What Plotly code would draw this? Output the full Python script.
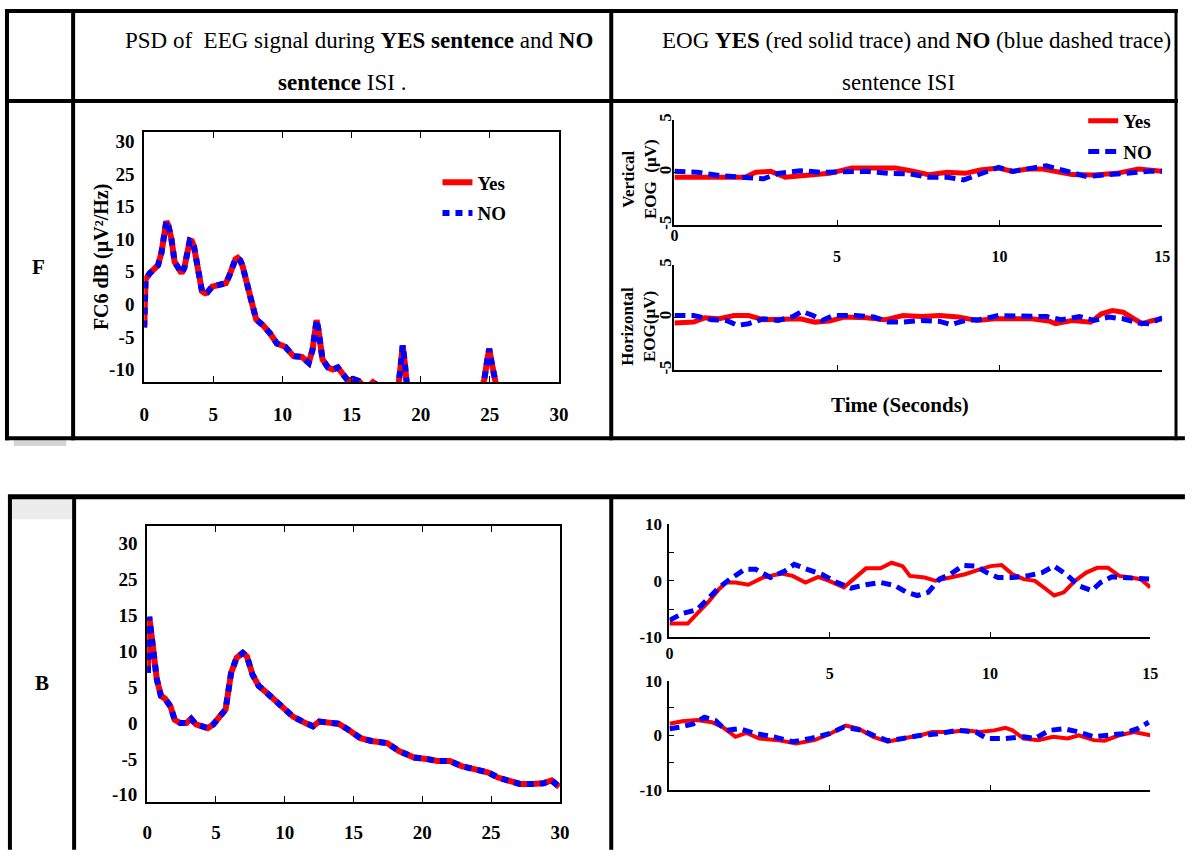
import plotly.graph_objects as go

# page geometry: the browser keeps its default 8px body margin, so the figure is
# sized to fill the 1203x868 window exactly inside that margin
PAGE_W, PAGE_H = 1203, 868
OX, OY = 8, 8
W, H = PAGE_W - 2 * OX, PAGE_H - 2 * OY
FONT = "Liberation Serif, Times New Roman, serif"
RED = "#ff0000"
BLUE = "#0000ff"

# ---------------- data ----------------
# Panel F : PSD of EEG (FC6)
psd_f_freq = [0.0, 0.1, 0.4, 0.75, 1.0, 1.25, 1.45, 1.6, 1.75, 1.97,
              2.2, 2.45, 2.7, 2.9, 3.07, 3.3, 3.45, 3.6, 3.93, 4.18,
              4.4, 4.55, 4.92, 5.4, 5.9, 6.15, 6.4, 6.6, 6.76, 6.95,
              7.1, 7.5, 7.87, 8.1, 8.6, 9.1, 9.6, 10.2, 10.8, 11.4,
              11.9, 12.17, 12.35, 12.47, 12.6, 12.75, 12.9, 13.3, 13.65, 14.0,
              14.4, 14.75, 15.1, 15.5, 15.85, 16.2, 16.55, 16.9, 17.5, 18.0,
              18.4, 18.55, 18.7, 18.85, 19.0, 19.5, 20.5, 21.5, 22.5, 23.5,
              24.3, 24.6, 24.8, 24.96, 25.12, 25.3, 25.6]
psd_f_yes = [-3.7, 3.5, 4.4, 5.1, 5.6, 7.5, 11.0, 12.2, 11.5, 9.5,
             6.1, 5.0, 4.4, 5.2, 6.6, 9.3, 9.2, 8.4, 4.6, 1.7,
             1.4, 1.5, 2.4, 2.7, 2.9, 4.0, 5.6, 6.5, 6.7, 6.3,
             5.6, 2.7, -0.7, -2.5, -3.4, -4.6, -6.1, -6.6, -8.0, -8.1,
             -9.0, -7.1, -4.5, -2.6, -4.0, -6.5, -8.5, -9.7, -10.0, -9.7,
             -10.7, -11.7, -11.4, -11.7, -12.4, -12.6, -11.9, -12.5, -13.3, -13.6,
             -12.2, -9.5, -6.4, -9.0, -12.3, -13.8, -14.2, -14.5, -14.6, -14.6,
             -13.5, -11.5, -8.8, -6.9, -8.8, -11.5, -13.8]
psd_f_no = [-3.7, 3.5, 4.4, 5.1, 5.6, 7.5, 11.0, 12.2, 11.5, 9.5,
            6.1, 5.0, 4.4, 5.2, 6.6, 9.3, 9.2, 8.4, 4.6, 1.7,
            1.4, 1.5, 2.4, 2.7, 2.9, 4.0, 5.6, 6.5, 6.7, 6.3,
            5.6, 2.7, -0.7, -2.5, -3.4, -4.6, -6.1, -6.6, -8.0, -8.1,
            -9.0, -7.1, -4.5, -2.6, -4.0, -6.5, -8.5, -9.7, -10.0, -9.7,
            -10.7, -11.7, -11.4, -11.7, -12.4, -12.6, -11.9, -12.5, -13.3, -13.6,
            -12.2, -9.5, -6.4, -9.0, -12.3, -13.8, -14.2, -14.5, -14.6, -14.6,
            -13.5, -11.5, -8.8, -6.9, -8.8, -11.5, -13.8]

# Panel B : PSD of EEG
psd_b_freq = [0.05, 0.15, 0.3, 0.45, 0.7, 1.0, 1.3, 1.7, 2.0, 2.4,
              2.85, 3.2, 3.55, 4.0, 4.4, 4.8, 5.25, 5.7, 6.1, 6.5,
              6.95, 7.25, 7.65, 8.1, 8.65, 9.2, 9.8, 10.6, 11.5, 12.05,
              12.5, 13.2, 13.9, 14.6, 15.5, 16.3, 17.45, 18.3, 19.4, 20.3,
              21.1, 22.0, 22.85, 23.7, 24.8, 25.5, 26.25, 27.1, 27.95, 28.8,
              29.4, 29.95]
psd_b_yes = [7.0, 14.8, 12.5, 9.8, 6.1, 3.8, 3.4, 2.3, 0.45, 0.0,
             0.0, 0.6, -0.2, -0.45, -0.7, -0.2, 0.7, 1.9, 7.0, 9.1,
             9.8, 9.3, 6.8, 5.2, 4.3, 3.4, 2.3, 0.9, 0.0, -0.45,
             0.2, 0.0, -0.1, -0.9, -2.1, -2.5, -2.8, -3.9, -4.8, -5.0,
             -5.3, -5.3, -6.0, -6.4, -6.9, -7.6, -8.0, -8.5, -8.5, -8.4,
             -8.0, -8.9]
psd_b_no = [7.0, 14.8, 12.5, 9.8, 6.1, 3.8, 3.4, 2.3, 0.45, 0.0,
            0.0, 0.6, -0.2, -0.45, -0.7, -0.2, 0.7, 1.9, 7.0, 9.1,
            9.8, 9.3, 6.8, 5.2, 4.3, 3.4, 2.3, 0.9, 0.0, -0.45,
            0.2, 0.0, -0.1, -0.9, -2.1, -2.5, -2.8, -3.9, -4.8, -5.0,
            -5.3, -5.3, -6.0, -6.4, -6.9, -7.6, -8.0, -8.5, -8.5, -8.4,
            -8.0, -8.9]

# Panel F : vertical EOG
veog_f_t_yes = [0, 1.04, 1.38, 2.17, 2.5, 2.96, 3.41, 4.1, 4.77, 5.45, 6.13, 6.8, 7.26, 7.82,
                8.39, 8.95, 9.4, 9.97, 10.4, 10.87, 11.33, 11.78, 12.23, 12.9, 13.6, 14.27, 15]
veog_f_yes = [-0.44, -0.44, -0.5, -0.44, 0.03, 0.12, -0.44, -0.28, -0.07, 0.43, 0.43, 0.43, 0.18, -0.19,
              0.03, -0.07, 0.25, 0.43, 0.12, 0.34, 0.34, 0.03, -0.19, -0.22, -0.07, 0.34, 0.12]
veog_f_t_no = [0, 0.7, 1.38, 2.06, 2.74, 3.19, 3.87, 4.54, 5.22, 5.9, 6.58, 7.26, 7.82, 8.39,
               8.9, 9.4, 9.97, 10.4, 10.87, 11.44, 12.0, 12.68, 13.36, 14.04, 14.6, 15]
veog_f_no = [0.12, 0.03, -0.28, -0.38, -0.59, -0.07, 0.18, 0.03, 0.12, 0.12, -0.07, -0.13, -0.44, -0.44,
             -0.69, -0.19, 0.5, 0.12, 0.34, 0.65, 0.18, -0.38, -0.19, 0.03, 0.12, 0.12]

# Panel F : horizontal EOG
heog_f_t_yes = [0, 0.59, 0.93, 1.38, 1.83, 2.28, 2.74, 3.3, 3.87, 4.32, 4.77, 5.22, 5.9, 6.47, 7.03,
                7.6, 8.16, 8.73, 9.3, 9.86, 10.4, 10.99, 11.55, 11.72, 12.23, 12.8, 13.13, 13.47,
                13.8, 14.15, 14.38, 14.72, 15]
heog_f_yes = [-0.52, -0.43, -0.02, -0.11, 0.2, 0.2, -0.21, -0.11, -0.11, -0.43, -0.33, 0.05, -0.02,
              -0.21, 0.2, 0.1, 0.2, 0.05, -0.27, -0.11, -0.11, -0.11, -0.36, -0.58, -0.27, -0.43,
              0.36, 0.67, 0.51, -0.11, -0.58, -0.27, -0.11]
heog_f_t_no = [0, 0.59, 1.15, 1.6, 1.94, 2.28, 2.74, 3.19, 3.64, 3.92, 4.26, 4.54, 4.88, 5.56, 6.13,
               6.58, 7.03, 7.6, 8.16, 8.5, 8.95, 9.4, 9.97, 10.4, 10.99, 11.44, 11.9, 12.46, 12.9,
               13.36, 13.8, 14.27, 14.6, 15]
heog_f_no = [0.2, 0.2, -0.21, -0.27, -0.74, -0.58, -0.11, -0.27, 0.1, 0.6, 0.2, -0.27, 0.2, 0.2, 0.05,
             -0.43, -0.43, -0.27, -0.36, -0.67, -0.27, -0.17, 0.2, 0.2, 0.2, 0.1, -0.21, 0.1, -0.27,
             0.05, -0.11, -0.52, -0.58, -0.02]

# Panel B : vertical EOG
veog_b_t_yes = [0, 0.57, 0.86, 1.2, 1.55, 1.77, 2.06, 2.46, 2.92, 3.49, 3.84, 4.24, 4.64, 4.98, 5.44,
                5.78, 6.13, 6.58, 6.93, 7.27, 7.5, 7.96, 8.3, 8.76, 9.22, 9.68, 10.02, 10.36, 10.7,
                11.05, 11.4, 11.74, 12.0, 12.3, 12.65, 13.0, 13.34, 13.68, 14.03, 14.37, 14.7, 15]
veog_b_yes = [-7.56, -7.56, -5.8, -3.8, -1.45, -0.3, -0.3, -0.7, 0.58, 1.27, 0.87, -0.3, 0.7, 0.0,
              -1.16, 0.58, 2.2, 2.2, 3.19, 2.6, 0.87, 0.58, 0.0, 0.58, 1.16, 2.03, 2.6, 2.8, 1.16,
              0.29, 0.0, -1.45, -2.6, -2.03, 0.0, 1.45, 2.3, 2.3, 0.87, 0.58, 0.29, -1.16]
veog_b_t_no = [0, 0.4, 0.86, 1.2, 1.55, 1.89, 2.35, 2.69, 3.15, 3.6, 3.89, 4.3, 4.75, 5.21, 5.67,
               6.13, 6.58, 7.04, 7.39, 7.73, 8.07, 8.42, 8.76, 9.16, 9.56, 9.9, 10.25, 10.7, 11.16,
               11.62, 12.0, 12.37, 12.77, 13.17, 13.45, 13.8, 14.26, 14.7, 15]
veog_b_no = [-6.97, -5.8, -5.1, -3.2, -1.16, 0.29, 2.03, 2.03, 0.58, 1.74, 2.9, 2.03, 1.16, -0.29,
             -1.28, -0.7, -0.29, -0.87, -2.03, -2.6, -2.03, 0.29, 1.16, 2.73, 2.6, 1.45, 0.58, 0.58,
             0.87, 1.45, 2.6, 1.16, -0.87, -1.74, -0.29, 0.7, 0.58, 0.29, 0.29]

# Panel B : horizontal EOG
heog_b_t_yes = [0, 0.4, 0.86, 1.32, 1.66, 2.06, 2.4, 2.8, 3.38, 3.95, 4.52, 4.98, 5.5, 5.9, 6.36,
                6.81, 7.27, 7.84, 8.19, 8.76, 9.22, 9.68, 10.13, 10.48, 10.7, 11.05, 11.5, 11.97,
                12.42, 12.77, 13.23, 13.57, 14.03, 14.49, 15]
heog_b_yes = [2.1, 2.57, 2.81, 2.39, 1.5, -0.29, 0.43, -0.59, -0.89, -1.49, -0.89, 0.18, 1.79, 1.2,
              -0.29, -1.19, -0.59, 0.0, 0.6, 0.6, 0.9, 0.6, 0.9, 1.37, 0.9, -0.59, -0.89, -0.29,
              -0.59, 0.0, -0.89, -1.0, 0.0, 0.6, 0.0]
heog_b_t_no = [0, 0.34, 0.74, 1.09, 1.43, 1.77, 2.18, 2.69, 3.26, 3.84, 4.41, 4.98, 5.44, 6.01, 6.36,
               6.81, 7.27, 7.84, 8.42, 8.99, 9.56, 9.9, 10.48, 11.05, 11.4, 11.85, 12.3, 12.77, 13.23,
               13.68, 14.14, 14.6, 14.95]
heog_b_no = [1.2, 1.5, 2.1, 3.3, 2.7, 0.9, 1.2, 0.3, -0.29, -1.19, -0.59, 0.3, 1.5, 0.9, 0.0, -1.0,
             -0.59, 0.0, 0.3, 0.9, 0.6, -0.59, -0.59, -0.29, -0.59, 0.9, 1.2, 0.6, -0.29, 0.0, 0.3,
             1.2, 2.39]

# tick labels
psd_x_ticks = [0, 5, 10, 15, 20, 25, 30]
psd_y_labels = ["-10", "-5", "0", "5", "10", "15", "25", "30"]
eog_x_ticks = [0, 5, 10, 15]
eog_x_labels = ["0", "<br>5", "<br>10", "<br>15"]
eog_f_y_ticks = [-5, 0, 5]
eog_b_y_ticks = [-10, -5, 0, 5, 10]
eog_b_y_labels = ["-10", "", "0", "", "10"]


# ---------------- helpers (page pixel -> paper fraction) ----------------
def px(x):
    return (x - OX) / W


def py(y):
    return 1 - (y - OY) / H


def bold(size):
    return dict(family=FONT, size=size, color="black", weight="bold")


fig = go.Figure()


def pair(x, y_yes, y_no, xa, ya, rw, bw, dash, legend=None, x_no=None):
    show = legend is not None
    fig.add_trace(go.Scatter(
        x=x, y=y_yes, xaxis=xa, yaxis=ya, mode="lines", name="Yes",
        line=dict(color=RED, width=rw), showlegend=show, legendgroup=(legend or "") + "yes",
        legend=legend or "legend", hoverinfo="skip"))
    fig.add_trace(go.Scatter(
        x=x_no if x_no is not None else x, y=y_no, xaxis=xa, yaxis=ya, mode="lines", name="NO",
        line=dict(color=BLUE, width=bw, dash=dash), showlegend=show,
        legendgroup=(legend or "") + "no", legend=legend or "legend", hoverinfo="skip"))


pair(psd_f_freq, psd_f_yes, psd_f_no, "x", "y", 6, 6, "7px,6px", legend="legend")
pair(veog_f_t_yes, veog_f_yes, veog_f_no, "x2", "y2", 5, 5, "11px,6px", legend="legend2", x_no=veog_f_t_no)
pair(heog_f_t_yes, heog_f_yes, heog_f_no, "x3", "y3", 5, 5, "11px,6px", x_no=heog_f_t_no)
pair(psd_b_freq, psd_b_yes, psd_b_no, "x4", "y4", 6, 6, "7px,6px")
pair(veog_b_t_yes, veog_b_yes, veog_b_no, "x5", "y5", 4, 5, "10px,6px", x_no=veog_b_t_no)
pair(heog_b_t_yes, heog_b_yes, heog_b_no, "x6", "y6", 4, 5, "10px,6px", x_no=heog_b_t_no)

common = dict(showgrid=False, zeroline=False, linecolor="black", linewidth=2, showline=True)


# ---- PSD panels ----
def psd_axes(xname, yname, tname, xdom, ydom, yrange, ytickpos, standoff_x):
    n = xname[1:]
    fig.layout["xaxis" + n] = dict(
        domain=xdom, range=[0, 30], anchor=yname, tickvals=psd_x_ticks, ticks="inside",
        ticklen=6, tickcolor="black", mirror="ticks", tickfont=bold(19),
        ticklabelstandoff=standoff_x, **common)
    m = yname[1:]
    fig.layout["yaxis" + m] = dict(
        domain=ydom, range=yrange, anchor=xname, tickvals=ytickpos, ticktext=psd_y_labels,
        ticks="", mirror=True, tickfont=bold(19), ticklabelstandoff=4, **common)
    fig.layout["yaxis" + tname[1:]] = dict(
        overlaying=yname, anchor=xname, range=[0, 8], tickvals=[1, 2, 3, 4, 5, 6, 7],
        ticks="inside", ticklen=6, tickcolor="black", mirror="ticks", showticklabels=False,
        showgrid=False, zeroline=False, showline=False)


step_f = (24.1 + 10) / 7
psd_axes("x", "y", "y7", [px(149), px(569)], [py(390), py(133.3)], [-11.94, 25.6],
         [-10 + step_f * i for i in range(8)], 14)
psd_axes("x4", "y4", "y8", [px(152), px(570)], [py(819.3), py(536.7)], [-11.04, 27.5],
         [-10 + 5 * i for i in range(8)], 12)


# ---- EOG panels ----
def eog_axes(n, xdom, ydom, yr, ytv, ytt, xlabels, tickangle=0, ystand=2, xstand=2):
    fig.layout["xaxis" + n] = dict(
        domain=xdom, range=[0, 15], anchor="y" + n, tickvals=eog_x_ticks,
        ticktext=eog_x_labels, showticklabels=xlabels, ticks="inside", ticklen=5,
        tickcolor="black", tickfont=bold(16), ticklabelstandoff=xstand, **common)
    fig.layout["yaxis" + n] = dict(
        domain=ydom, range=yr, anchor="x" + n, tickvals=ytv, ticktext=ytt, ticks="inside",
        ticklen=5, tickcolor="black", tickfont=bold(17), tickangle=tickangle,
        ticklabelstandoff=ystand, **common)


eog_axes("2", [px(686), px(1180)], [py(229), py(121.7)], [-5, 5], eog_f_y_ticks,
         [str(v) for v in eog_f_y_ticks], True, -90, -5, -5)
eog_axes("3", [px(686), px(1180)], [py(377.3), py(270)], [-5, 5], eog_f_y_ticks,
         [str(v) for v in eog_f_y_ticks], False, -90, -5)
eog_axes("5", [px(681), px(1168)], [py(650.7), py(535)], [-10, 10], eog_b_y_ticks,
         eog_b_y_labels, True, 0, 2, 0)
eog_axes("6", [px(681), px(1168)], [py(806.7), py(695)], [-10, 10], eog_b_y_ticks,
         eog_b_y_labels, False)

# ---- legends ----
leg_common = dict(xanchor="left", yanchor="top", bgcolor="rgba(0,0,0,0)", borderwidth=0,
                  font=bold(19), tracegroupgap=3, itemwidth=30)
fig.layout.legend = dict(x=px(446), y=py(166), **leg_common)
fig.layout.legend2 = dict(x=px(1100), y=py(103), **leg_common)

# ---- table lines ----
shapes = []


def hline(y, x0, x1, w=4):
    shapes.append(dict(type="line", xref="paper", yref="paper", x0=px(x0), x1=px(x1),
                       y0=py(y), y1=py(y), line=dict(color="black", width=w)))


def vline(x, y0, y1, w=4):
    shapes.append(dict(type="line", xref="paper", yref="paper", x0=px(x), x1=px(x),
                       y0=py(y0), y1=py(y1), line=dict(color="black", width=w)))


# shadows
shapes.append(dict(type="rect", xref="paper", yref="paper", x0=px(17), x1=px(70),
                   y0=py(455), y1=py(449), line=dict(width=0), fillcolor="#d4d4d4"))
shapes.append(dict(type="rect", xref="paper", yref="paper", x0=px(15), x1=px(76),
                   y0=py(530), y1=py(509), line=dict(width=0), fillcolor="#ececec"))
# top table
hline(10, 8, 1196)
hline(102, 8, 1196)
hline(447, 8, 1203)
vline(10, 8, 449)
vline(77, 8, 449)
vline(622, 8, 449)
vline(1194, 8, 449, 3)
# bottom table
hline(507, 11, 1203, 5)
vline(13, 505, 868)
vline(78, 505, 868)
vline(622, 505, 868)
fig.layout.shapes = shapes

# ---- text ----
ann = []


def text(x, y, s, size, angle=0, weight="normal"):
    ann.append(dict(xref="paper", yref="paper", x=px(x), y=py(y), text=s, showarrow=False,
                    xanchor="center", yanchor="middle", textangle=angle,
                    font=dict(family=FONT, size=size, color="black", weight=weight)))


text(367, 40, "PSD of  EEG signal during <b>YES sentence</b> and <b>NO</b>", 23)
text(349, 83, "<b>sentence</b> ISI .", 23)
text(931, 40, "EOG <b>YES</b> (red solid trace) and <b>NO</b> (blue dashed trace)", 23)
text(913, 83, "sentence ISI", 23)
text(42, 272, "F", 21, weight="bold")
text(45, 697, "B", 21, weight="bold")
# axis titles
text(106, 262, "FC6 dB (µV²/Hz)", 20, -90, "bold")
text(650, 182, "Vertical<br>EOG  (µV)", 17, -90, "bold")
text(650, 332, "Horizontal<br>EOG(µV)", 17, -90, "bold")
text(914, 413, "Time (Seconds)", 21, 0, "bold")
fig.layout.annotations = ann

fig.update_layout(
    width=W, height=H, margin=dict(l=0, r=0, t=0, b=0),
    paper_bgcolor="white", plot_bgcolor="rgba(0,0,0,0)",
    font=dict(family=FONT, color="black"),
)

fig.write_html("out.html")
